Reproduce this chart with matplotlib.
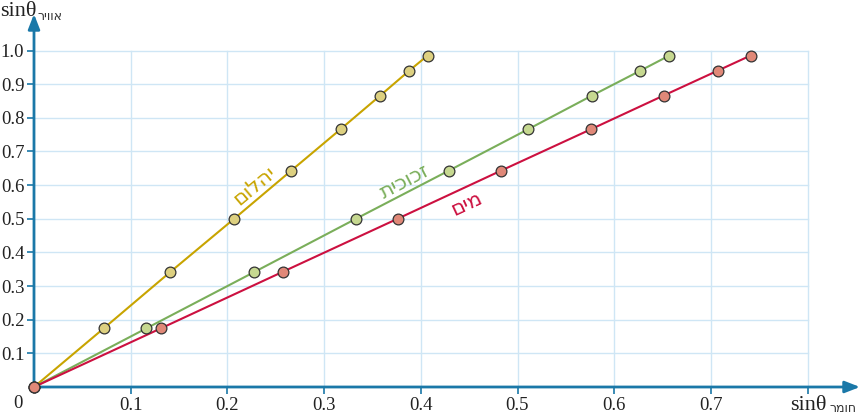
import matplotlib.pyplot as plt
import numpy as np

# sin of the angle in air (same for all three materials)
sin_air = [0.0, 0.174, 0.342, 0.500, 0.643, 0.766, 0.866, 0.940, 0.985]

# sin of the angle inside the material
sin_diamond = [0.0, 0.072, 0.141, 0.207, 0.266, 0.317, 0.358, 0.388, 0.407]
sin_glass = [0.0, 0.116, 0.228, 0.333, 0.429, 0.511, 0.577, 0.627, 0.657]
sin_water = [0.0, 0.131, 0.257, 0.376, 0.483, 0.576, 0.651, 0.707, 0.741]

names = ["יהלום", "זכוכית", "מים"]
xticks = [0.1, 0.2, 0.3, 0.4, 0.5, 0.6, 0.7, 0.8]
xlabels = ["0.1", "0.2", "0.3", "0.4", "0.5", "0.6", "0.7", ""]
yticks = [0.1, 0.2, 0.3, 0.4, 0.5, 0.6, 0.7, 0.8, 0.9, 1.0]

axis_col = "#1a78a8"
grid_col = "#cfe6f5"
serif = "Liberation Serif"

W, H = 865, 418
fig = plt.figure(figsize=(W / 100, H / 100), dpi=100)
x0, y0, x1, y1 = 34, 387, 860, 14
ax = fig.add_axes([x0 / W, 1 - y0 / H, (x1 - x0) / W, (y0 - y1) / H])
xmax = (x1 - x0) / 967.0
ymax = (y0 - y1) / 336.5
ax.set_xlim(0, xmax)
ax.set_ylim(0, ymax)
for s in ax.spines.values():
    s.set_visible(False)

# grid only inside 0..0.8 x 0..1.0
for xv in xticks:
    ax.plot([xv, xv], [0, 1.0], color=grid_col, lw=1, zorder=0)
for yv in yticks:
    ax.plot([0, 0.8], [yv, yv], color=grid_col, lw=1, zorder=0)

# arrows for axes
ax.annotate("", xy=(xmax, 0), xytext=(0, 0), annotation_clip=False,
            arrowprops=dict(arrowstyle="-|>,head_length=0.9,head_width=0.35", color=axis_col, lw=2, shrinkA=0, shrinkB=0))
ax.annotate("", xy=(0, ymax), xytext=(0, 0), annotation_clip=False,
            arrowprops=dict(arrowstyle="-|>,head_length=0.9,head_width=0.35", color=axis_col, lw=2, shrinkA=0, shrinkB=0))

ax.set_xticks(xticks)
ax.set_yticks(yticks)
ax.set_xticklabels(xlabels, fontfamily=serif, fontsize=13.5)
ax.set_yticklabels(["%.1f" % v for v in yticks], fontfamily=serif, fontsize=13.5)
ax.tick_params(colors=axis_col, length=5, width=1.2, labelcolor="#222222", pad=2)
ax.text(-0.012, -0.025, "0", ha="right", va="top", fontfamily=serif, fontsize=13.5, color="#222222")

series = [
    (sin_diamond, "#c8a400", "#ddd080"),
    (sin_glass, "#7aae5a", "#c6d890"),
    (sin_water, "#cc1040", "#e08878"),
]
for (xs, lc, fc) in series:
    ax.plot(xs, sin_air, color=lc, lw=1.5, zorder=2, clip_on=False)
    ax.scatter(xs, sin_air, s=60, facecolor=fc, edgecolor="#333333", linewidth=0.9, zorder=3, clip_on=False)

# curve labels (hebrew reversed for right-to-left display)
ax.text(0.228, 0.60, names[0][::-1], rotation=40, color="#c8a400", fontsize=15,
        ha="center", va="center", fontfamily="DejaVu Sans")
ax.text(0.383, 0.61, names[1][::-1], rotation=27.5, color="#7aae5a", fontsize=15,
        ha="center", va="center", fontfamily="DejaVu Sans")
ax.text(0.447, 0.545, names[2][::-1], rotation=25, color="#cc1040", fontsize=15,
        ha="center", va="center", fontfamily="DejaVu Sans")

# axis labels
fig.text(0 / W, 1 - 12 / H, "sinθ", fontfamily=serif, fontsize=16, va="center", ha="left", color="#222222")
fig.text(38 / W, 1 - 16 / H, "אוויר"[::-1], fontfamily="DejaVu Sans", fontsize=9, va="center", ha="left", color="#333333")
fig.text(790 / W, 1 - 405 / H, "sinθ", fontfamily=serif, fontsize=16, va="center", ha="left", color="#222222")
fig.text(829 / W, 1 - 409 / H, "חומר"[::-1], fontfamily="DejaVu Sans", fontsize=9, va="center", ha="left", color="#333333")

fig.savefig("out.png", dpi=100)
